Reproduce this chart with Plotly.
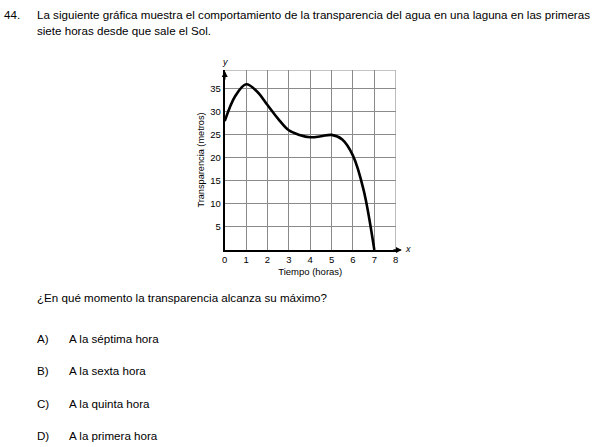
import plotly.graph_objects as go

# Data
hours = [0, 0.5, 1, 1.5, 2, 2.5, 3, 3.5, 4, 4.5, 5, 5.5, 6, 6.5, 7]
transparency = [28, 33.5, 36, 34.5, 31.5, 28.5, 26, 25, 24.5, 24.7, 25, 24, 20.5, 13, 0]
x_ticks = [0, 1, 2, 3, 4, 5, 6, 7, 8]
y_ticks = [5, 10, 15, 20, 25, 30, 35]

question_number = "44."
intro_lines = [
    "La siguiente gráfica muestra el comportamiento de la transparencia del agua en una laguna en las primeras",
    "siete horas desde que sale el Sol.",
]
question = "¿En qué momento la transparencia alcanza su máximo?"
option_letters = ["A)", "B)", "C)", "D)"]
option_texts = ["A la séptima hora", "A la sexta hora", "A la quinta hora", "A la primera hora"]

W, H = 595, 447
FONT = "Liberation Sans, Arial, sans-serif"

def px(x):
    return x / W

def py(y):
    return 1 - y / H

x0_px, x8_px = 224, 396.7
y0_px, ytop_px = 250, 70
y_top = 39.1

fig = go.Figure()
fig.add_trace(go.Scatter(
    x=hours, y=transparency, mode="lines",
    line=dict(color="black", width=2.6, shape="spline", smoothing=1.0),
    hoverinfo="skip", showlegend=False, cliponaxis=False,
))

fig.update_layout(
    width=W, height=H,
    margin=dict(l=0, r=0, t=0, b=0),
    paper_bgcolor="white", plot_bgcolor="white",
    showlegend=False,
    font=dict(family=FONT, color="black"),
    xaxis=dict(
        domain=[px(x0_px), px(x8_px)],
        range=[0, 8], tickvals=x_ticks, ticktext=[str(v) for v in x_ticks],
        showgrid=True, gridcolor="#8a8a8a", gridwidth=1,
        showline=True, linecolor="black", linewidth=2,
        zeroline=False, ticks="", ticklen=0,
        tickfont=dict(size=9.5, family=FONT, color="black"),
        title=dict(text="Tiempo (horas)", font=dict(size=9.5, family=FONT, color="black"), standoff=4),
        fixedrange=True,
    ),
    yaxis=dict(
        domain=[py(y0_px), py(ytop_px)],
        range=[0, y_top], tickvals=y_ticks, ticktext=[str(v) for v in y_ticks],
        showgrid=True, gridcolor="#8a8a8a", gridwidth=1,
        showline=True, linecolor="black", linewidth=2,
        zeroline=False, ticks="", ticklen=0,
        tickfont=dict(size=9.5, family=FONT, color="black"),
        title=dict(text="Transparencia (metros)", font=dict(size=9.2, family=FONT, color="black"), standoff=4),
        fixedrange=True,
    ),
)

# top and right borders of the grid
fig.add_shape(type="line", xref="x", yref="y", x0=0, x1=8, y0=y_top, y1=y_top,
              line=dict(color="#8a8a8a", width=1))
fig.add_shape(type="line", xref="x", yref="y", x0=8, x1=8, y0=0, y1=y_top,
              line=dict(color="#8a8a8a", width=1))

# axis arrows (paper positions)
fig.add_annotation(x=px(403), y=py(250), xref="paper", yref="paper", ax=-10, ay=0, text="",
                   showarrow=True, arrowhead=2, arrowsize=0.8, arrowwidth=1.5, arrowcolor="black")
fig.add_annotation(x=px(224), y=py(71), xref="paper", yref="paper", ax=0, ay=10, text="",
                   showarrow=True, arrowhead=2, arrowsize=0.8, arrowwidth=1.5, arrowcolor="black")
fig.add_annotation(x=px(409), y=py(249), xref="paper", yref="paper", text="<i>x</i>",
                   showarrow=False, font=dict(size=9, family=FONT), xanchor="center", yanchor="middle")
fig.add_annotation(x=px(224), y=py(62), xref="paper", yref="paper", text="<i>y</i>",
                   showarrow=False, font=dict(size=9, family=FONT), xanchor="center", yanchor="middle")

TEXT_SIZE = 11.6
def text_at(x, y, s):
    fig.add_annotation(x=px(x - 4), y=py(y), xref="paper", yref="paper", text=s, showarrow=False,
                       xanchor="left", yanchor="middle", borderpad=0,
                       font=dict(size=TEXT_SIZE, family=FONT, color="black"))

text_at(4, 15, question_number)
text_at(37, 15, intro_lines[0])
text_at(37, 30, intro_lines[1])
text_at(37, 297, question)
for i, (l, t) in enumerate(zip(option_letters, option_texts)):
    yy = 338 + i * 32.5
    text_at(37, yy, l)
    text_at(70, yy, t)

fig.write_html("out.html", config={"displayModeBar": False},
               post_script="document.body.style.margin='0px';document.body.style.overflow='hidden';")
